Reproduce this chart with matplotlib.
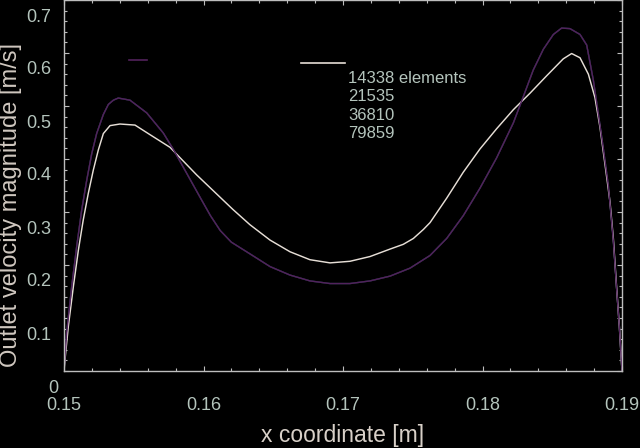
import matplotlib
matplotlib.use("Agg")
import matplotlib.pyplot as plt
from matplotlib.ticker import MultipleLocator, FixedLocator
from matplotlib.transforms import ScaledTranslation
from matplotlib.lines import Line2D

# ---------------- data ----------------
labels = ["14338 elements", "21535", "36810", "79859"]

x_14338 = [0.15000, 0.15007, 0.15031, 0.15067, 0.15103, 0.15138, 0.15174, 0.15210,
           0.15246, 0.15282, 0.15330, 0.15401, 0.15509, 0.15616, 0.15760, 0.15951,
           0.16210, 0.16333, 0.16477, 0.16620, 0.16763, 0.16907, 0.17050, 0.17194,
           0.17337, 0.17432, 0.17504, 0.17576, 0.17624, 0.17743, 0.17862, 0.17982,
           0.18101, 0.18221, 0.18340, 0.18460, 0.18579, 0.18639, 0.18699, 0.18759,
           0.18806, 0.18842, 0.18878, 0.18914, 0.18938, 0.18962, 0.18981, 0.19000]
v_14338 = [0.000, 0.021, 0.084, 0.159, 0.228, 0.285, 0.335, 0.379,
           0.417, 0.448, 0.463, 0.466, 0.464, 0.446, 0.422, 0.370,
           0.305, 0.276, 0.247, 0.225, 0.210, 0.204, 0.207, 0.216,
           0.230, 0.239, 0.250, 0.267, 0.280, 0.326, 0.375, 0.419,
           0.457, 0.493, 0.524, 0.557, 0.589, 0.599, 0.591, 0.560,
           0.516, 0.460, 0.390, 0.319, 0.250, 0.155, 0.084, 0.000]

x_fine = [0.15000, 0.15019, 0.15055, 0.15091, 0.15127, 0.15163, 0.15198, 0.15234,
          0.15282, 0.15318, 0.15354, 0.15389, 0.15473, 0.15593, 0.15712, 0.15784,
          0.15975, 0.16050, 0.16120, 0.16200, 0.16333, 0.16477, 0.16620, 0.16763,
          0.16907, 0.17050, 0.17194, 0.17337, 0.17480, 0.17624, 0.17743, 0.17862,
          0.17982, 0.18101, 0.18221, 0.18293, 0.18364, 0.18436, 0.18508, 0.18567,
          0.18627, 0.18699, 0.18747, 0.18795, 0.18831, 0.18866, 0.18902, 0.18938,
          0.18962, 0.18981, 0.19000]
v_21535 = [0.000, 0.071, 0.159, 0.235, 0.304, 0.360, 0.409, 0.448,
           0.484, 0.503, 0.511, 0.515, 0.511, 0.487, 0.449, 0.418,
           0.328, 0.293, 0.265, 0.243, 0.221, 0.197, 0.181, 0.170,
           0.165, 0.165, 0.170, 0.179, 0.194, 0.218, 0.250, 0.293,
           0.345, 0.402, 0.468, 0.518, 0.568, 0.607, 0.635, 0.647,
           0.646, 0.635, 0.615, 0.548, 0.484, 0.420, 0.350, 0.245,
           0.153, 0.084, 0.000]
v_36810 = list(v_21535)
v_79859 = list(v_21535)

series = [
    (x_14338, v_14338, "#e6ded6"),
    (x_fine, v_21535, "#0e3c3c"),
    (x_fine, v_36810, "#1c1c30"),
    (x_fine, v_79859, "#52225c"),
]

xticks = [0.15, 0.16, 0.17, 0.18, 0.19]
xtick_labels = ["0.15", "0.16", "0.17", "0.18", "0.19"]
yticks = [0, 0.1, 0.2, 0.3, 0.4, 0.5, 0.6, 0.7]
ytick_labels = ["0", "0.1", "0.2", "0.3", "0.4", "0.5", "0.6", "0.7"]

# ---------------- figure ----------------
plt.rcParams["font.family"] = ["Liberation Sans", "DejaVu Sans"]
fig = plt.figure(figsize=(6.4, 4.48), dpi=100, facecolor="black")
ax = fig.add_axes([64 / 640, 1 - 371 / 448, 558 / 640, 371 / 448])
ax.set_facecolor("black")

for xs, vs, col in series[1:3]:
    ax.plot(xs, vs, color=col, lw=1.0)
ax.plot(series[0][0], series[0][1], color=series[0][2], lw=1.05)
ax.plot(series[3][0], series[3][1], color=series[3][2], lw=1.0)

ax.set_xlim(0.15, 0.19)
ax.set_ylim(0, 0.7)

spine_col = "#bdbdbd"
for s in ax.spines.values():
    s.set_color(spine_col)
    s.set_linewidth(1.0)

ax.xaxis.set_major_locator(FixedLocator(xticks))
ax.set_xticklabels(xtick_labels)
ax.yaxis.set_major_locator(FixedLocator(yticks))
ax.set_yticklabels(ytick_labels)
ax.xaxis.set_minor_locator(MultipleLocator(0.002))
ax.yaxis.set_minor_locator(MultipleLocator(0.02))

tick_col = "#b4c4bc"
ax.tick_params(which="both", direction="in", top=True, right=True,
               color=spine_col, labelcolor=tick_col, labelsize=13)
ax.tick_params(which="major", length=3.5, width=0.8)
ax.tick_params(which="minor", length=2.2, width=0.8)
ax.tick_params(axis="x", which="major", pad=19)
ax.tick_params(axis="y", which="major", pad=9)

# y tick labels sit below their ticks in the reference
for i, lab in enumerate(ax.get_yticklabels()):
    dx = 7 / 100 if i == 0 else 0
    lab.set_transform(lab.get_transform() +
                      ScaledTranslation(dx, -15 / 100, fig.dpi_scale_trans))

ax.set_xlabel("x coordinate [m]", fontsize=16.5, color="#d8d0c8")
ax.xaxis.label.set_va("center")
ax.xaxis.set_label_coords(0.5, -(435 - 371) / 371)

ax.set_ylabel("Outlet velocity magnitude [m/s]", fontsize=17, color="#d0c8c0")
ax.yaxis.label.set_va("center")
ax.yaxis.label.set_ha("center")
ax.yaxis.set_label_coords((11 - 64) / 558, (371 - 205) / 371)

# legend (drawn as in the reference: loose markers and texts)
fig.add_artist(Line2D([129 / 640, 147 / 640], [1 - 60 / 448, 1 - 60 / 448],
                      color=series[3][2], lw=1.2))
fig.add_artist(Line2D([301 / 640, 345 / 640], [1 - 63.3 / 448, 1 - 63.3 / 448],
                      color=series[0][2], lw=1.2))
for lab, yc in zip(labels, [78.3, 96.7, 115.0, 133.3]):
    fig.text(348 / 640, 1 - yc / 448, lab, fontsize=12, color=tick_col,
             ha="left", va="center")

fig.savefig("out.png", dpi=100, facecolor="black")
